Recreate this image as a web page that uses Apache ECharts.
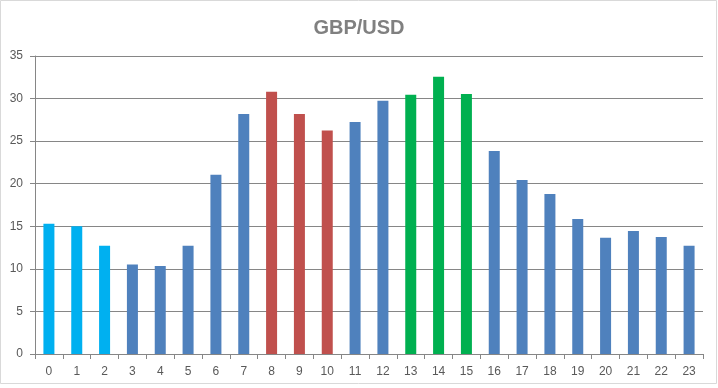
<!DOCTYPE html>
<html>
<head>
<meta charset="utf-8">
<script src="https://cdn.jsdelivr.net/npm/echarts@6/dist/echarts.min.js"></script>
<style>
html,body{margin:0;padding:0;background:#fff;}
#chart{width:718px;height:388px;}
</style>
</head>
<body>
<div id="chart"></div>
<script>
const title = 'GBP/USD';
const hours = ['0','1','2','3','4','5','6','7','8','9','10','11','12','13','14','15','16','17','18','19','20','21','22','23'];
const values = [15.3, 15.0, 12.7, 10.5, 10.35, 12.7, 21.05, 28.2, 30.8, 28.2, 26.25, 27.25, 29.75, 30.45, 32.55, 30.55, 23.85, 20.45, 18.8, 15.85, 13.65, 14.45, 13.75, 12.7];
const groups = ['early','early','early','base','base','base','base','base','london','london','london','base','base','overlap','overlap','overlap','base','base','base','base','base','base','base','base'];
const yTicks = [0, 5, 10, 15, 20, 25, 30, 35];

const groupColor = { early: '#00B0F0', base: '#4F81BD', london: '#C0504D', overlap: '#00B050' };

const chart = echarts.init(document.getElementById('chart'), null, { renderer: 'canvas' });
chart.setOption({
  animation: false,
  backgroundColor: '#ffffff',
  title: {
    text: title,
    left: 'center',
    top: 13,
    textStyle: { fontFamily: 'Liberation Sans', fontWeight: 'bold', fontSize: 20, color: '#808080' }
  },
  graphic: [{
    type: 'rect',
    shape: { x: 0.5, y: 0.5, width: 716, height: 383 },
    style: { fill: 'none', stroke: '#d9d9d9', lineWidth: 1 },
    silent: true
  }],
  grid: { left: 35, right: 15, top: 56, bottom: 34 },
  xAxis: {
    type: 'category',
    data: hours,
    boundaryGap: true,
    axisLine: { lineStyle: { color: '#868686', width: 1 } },
    axisTick: { show: true, length: 5, alignWithLabel: false, lineStyle: { color: '#868686' } },
    axisLabel: { color: '#595959', fontFamily: 'Liberation Sans', fontSize: 12, margin: 12 },
    splitLine: { show: false }
  },
  yAxis: {
    type: 'value',
    min: yTicks[0],
    max: yTicks[yTicks.length - 1],
    interval: yTicks[1] - yTicks[0],
    axisLine: { show: true, lineStyle: { color: '#868686', width: 1 } },
    axisTick: { show: true, length: 5, lineStyle: { color: '#868686' } },
    axisLabel: { color: '#595959', fontFamily: 'Liberation Sans', fontSize: 12, margin: 12 },
    splitLine: { show: true, lineStyle: { color: '#868686', width: 1 } }
  },
  series: [{
    type: 'bar',
    barWidth: 11,
    data: values.map((v, i) => ({ value: v, itemStyle: { color: groupColor[groups[i]] } }))
  }]
});
</script>
</body>
</html>
